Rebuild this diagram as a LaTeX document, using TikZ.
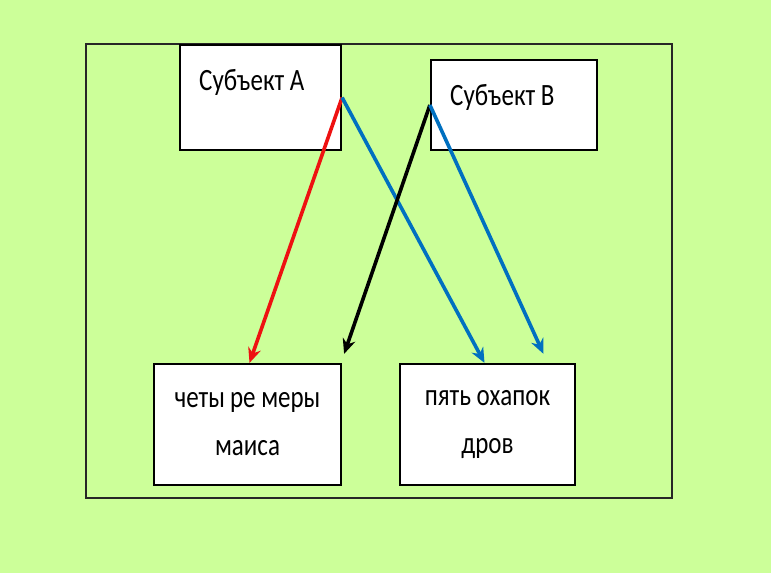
\documentclass[tikz,border=0pt]{standalone}
\usepackage{fontspec}
\setmainfont{Carlito}
\usetikzlibrary{arrows.meta}
\definecolor{bggreen}{HTML}{CCFF99}
\definecolor{arrred}{HTML}{EE1111}
\definecolor{arrblue}{HTML}{0070C0}
\newcommand{\tallt}[1]{\scalebox{1}[1.24]{#1}}
\tikzset{
  box/.style={draw=black, line width=2.2pt, fill=white, inner sep=0pt, font=\fontsize{25}{48}\selectfont, align=center},
  lbl/.style={font=\fontsize{25}{30}\selectfont, anchor=base west, inner sep=0pt},
  conn/.style={line width=3.6pt, -{Stealth[length=15pt,width=13pt]}}
}
\begin{document}
\begin{tikzpicture}[x=1pt,y=-1pt]
\fill[bggreen] (0,0) rectangle (771,573);
\useasboundingbox (0,0) rectangle (771,573);
\node[draw=black!85, line width=1.8pt, fill=bggreen, minimum width=586pt, minimum height=454pt, inner sep=0pt] (frame) at (379,271) {};
\node[box, minimum width=161pt, minimum height=105pt] (A) at (260.5,97.5) {};
\node[lbl] (At) at (199,90) {\tallt{Субъект А}};
\node[box, minimum width=166pt, minimum height=90pt] (B) at (514,105) {};
\node[lbl] (Bt) at (450,105) {\tallt{Субъект В}};
\node[box, minimum width=187pt, minimum height=121pt] (C) at (247.5,424.5) {\tallt{четы\kern5pt ре меры}\\\tallt{маиса}};
\node[box, minimum width=175pt, minimum height=121pt] (D) at (487.5,424.5) {\tallt{пять охапок}\\\tallt{дров}};
\coordinate (cA) at ([xshift=2pt]C.north);
\coordinate (cB) at ([xshift=2pt,yshift=9pt]C.north east);
\coordinate (dA) at ([xshift=-3pt]D.north);
\coordinate (dB) at ([xshift=56pt,yshift=9pt]D.north);
\draw[conn, arrred] (A.east) -- (cA);
\draw[conn, arrblue] (A.east) -- (dA);
\draw[conn, black] (B.west) -- (cB);
\draw[conn, arrblue] (B.west) -- (dB);
\end{tikzpicture}
\end{document}
